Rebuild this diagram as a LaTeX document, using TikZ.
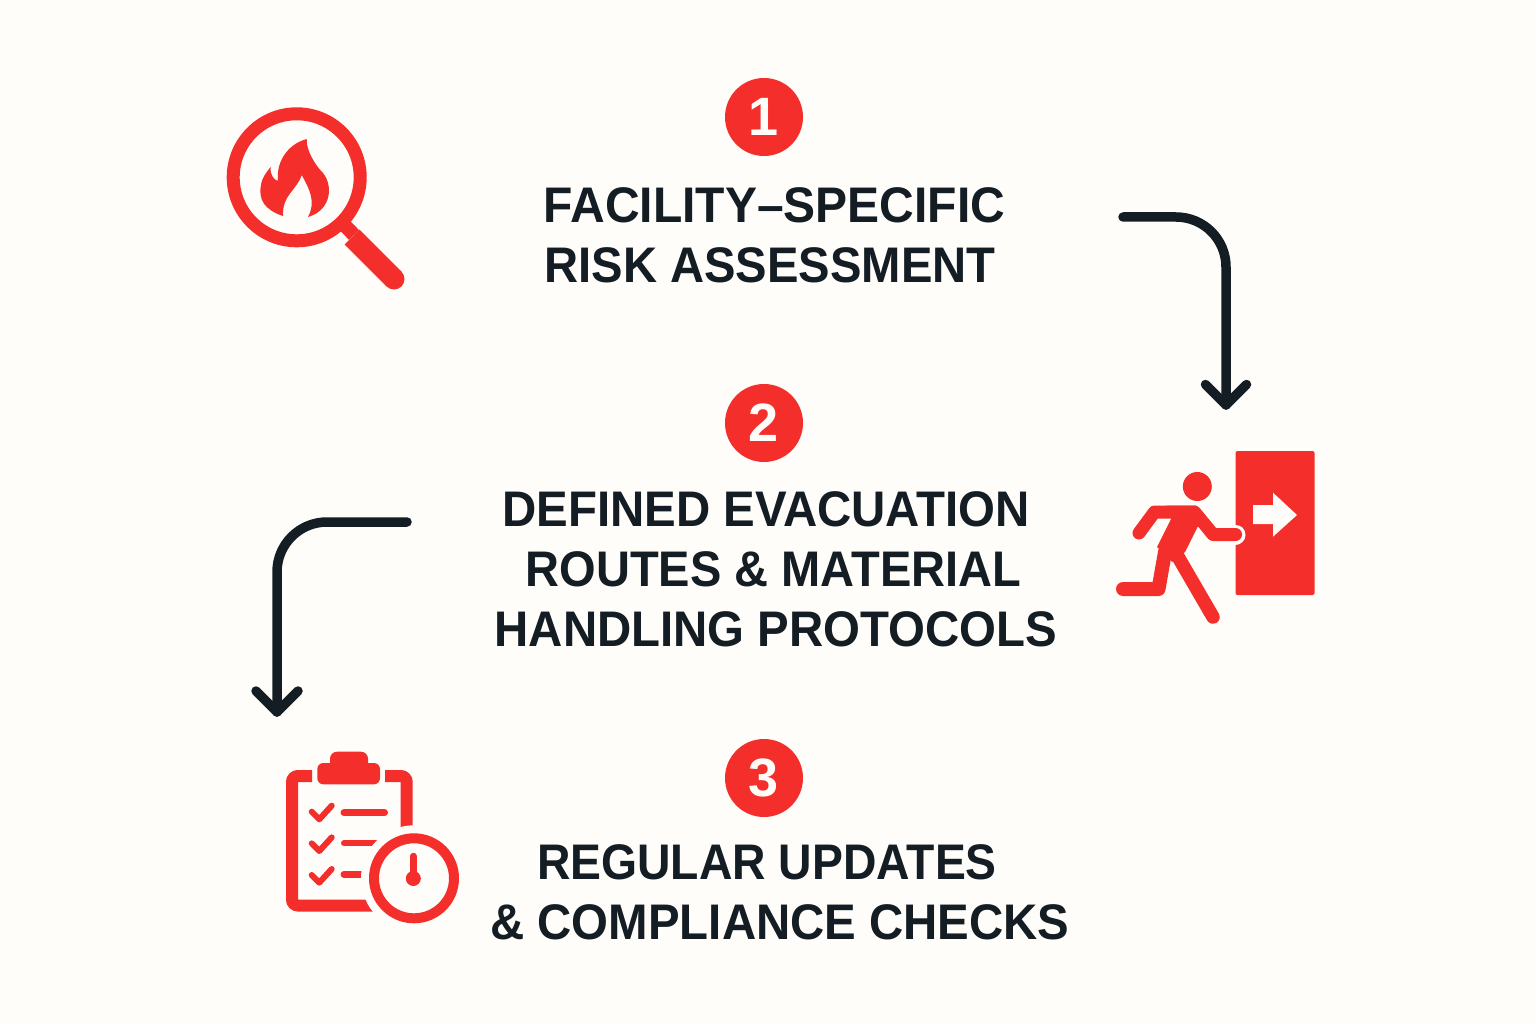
\documentclass[tikz,border=0pt]{standalone}
\usepackage{fontspec}
\setmainfont{Liberation Sans}[BoldFeatures={FakeStretch=0.948}]
\newfontfamily\digitfont{Liberation Sans Bold}
\definecolor{bgc}{HTML}{FFFDFA}
\definecolor{redc}{HTML}{F32E2B}
\definecolor{inkc}{HTML}{131D23}
\tikzset{
 lbl/.style={font=\fontsize{50}{60}\selectfont\bfseries,text=inkc,inner sep=0pt,anchor=center},
 badge/.style={circle,fill=redc,minimum size=78pt,inner sep=0pt,text=bgc,font=\fontsize{54}{54}\digitfont},
 flow/.style={draw=inkc,line width=9.5pt,line cap=round,line join=round},
 icl/.style={draw=redc,line cap=round,line join=round}
}
\begin{document}
\begin{tikzpicture}[x=1pt,y=-1pt]
\useasboundingbox[fill=bgc] (0,0) rectangle (1536,1024);
\node[badge] (b1) at (764,117) {\raisebox{-2pt}{1}};
\node[badge] (b2) at (764,423) {\raisebox{-2pt}{2}};
\node[badge] (b3) at (764,778) {\raisebox{-2pt}{3}};
\node[lbl,xscale=1.013] (t1a) at (774.5,205) {FACILITY–SPECIFIC};
\node[lbl,xscale=0.996] (t1b) at (770,265) {RISK ASSESSMENT};
\node[lbl] (t2a) at (766,509) {DEFINED EVACUATION};
\node[lbl,xscale=0.992] (t2b) at (773.5,569) {ROUTES \& MATERIAL};
\node[lbl] (t2c) at (776,629) {HANDLING PROTOCOLS};
\node[lbl,xscale=0.977] (t3a) at (767,862) {REGULAR UPDATES};
\node[lbl] (t3b) at (780,922) {\& COMPLIANCE CHECKS};
% connectors
\coordinate (a1s) at (1123,217); \coordinate (a1e) at (1226,405);
\draw[flow] (a1s) -- (1176,217) arc[start angle=-90,end angle=0,radius=50] -- (a1e);
\draw[flow] (1205.5,384.5) -- (a1e) -- (1246.5,384.5);
\coordinate (a2s) at (407,522); \coordinate (a2e) at (277,712);
\draw[flow] (a2s) -- (327,522) arc[start angle=270,end angle=180,radius=50] -- (a2e);
\draw[flow] (256,691) -- (a2e) -- (298,691);
% magnifier
\draw[redc,line width=13pt] (296.7,177.3) circle[radius=63.5];
\draw[redc,line width=14pt] (343,223.5) -- (354,235);
\draw[redc,line width=21pt,line cap=butt] (352,237) -- (394,279);
\fill[redc] (394,279) circle[radius=10.5];
\fill[redc] (306.7,139) .. controls (306,150) and (315,165) .. (323,173) .. controls (333,185) and (332,210) .. (308,217)
 .. controls (316,202) and (310,190) .. (301.7,175) .. controls (297,190) and (282,195) .. (283,216)
 .. controls (265,210) and (258,200) .. (261,185) .. controls (262,177) and (267,172) .. (270.5,167)
 .. controls (270,175) and (274,180) .. (278,181) .. controls (276,165) and (285,145) .. (306.7,139) -- cycle;
% door and runner
\fill[redc,rounded corners=2pt] (1235.5,451) rectangle (1314.5,595);
\fill[bgc] (1253,505) -- (1273,505) -- (1273,492.7) -- (1297,515) -- (1273,536.7) -- (1273,524) -- (1253,524) -- cycle;
\draw[bgc,line width=20pt,line cap=round] (1215,534.5) -- (1235.5,534.5);
\fill[redc] (1197.3,486.5) circle[radius=14.5];
\fill[redc] (1165,505.5) -- (1196,505.5) -- (1206,520) -- (1199,524) -- (1185,552) -- (1172,562) -- (1157,547) -- (1171,519) -- (1170,506) -- cycle;
\draw[icl,line width=13pt] (1139,533) -- (1154.5,512) -- (1194.5,512) -- (1213,534.5) -- (1235.5,534.5);
\draw[icl,line width=14pt] (1165,552) -- (1158.5,589) -- (1123,589);
\draw[icl,line width=13.5pt] (1177,555) -- (1213,617);
% clipboard
\draw[redc,line width=12pt,rounded corners=6pt] (312,776) -- (292,776) -- (292,905.5) -- (385,905.5);
\draw[redc,line width=12pt,rounded corners=6pt] (385,776) -- (406.7,776) -- (406.7,860);
\fill[redc,rounded corners=6pt] (317.3,763) rectangle (380,784.3);
\fill[redc,rounded corners=7pt] (330,751.7) rectangle (368,775);
\foreach \y in {811.7,843.4,875}{ \draw[icl,line width=6pt] (311.7,\y) -- (319.3,\y+7.6) -- (331.7,\y-6); }
\draw[icl,line width=7pt] (344,812.7) -- (384.5,812.7);
\draw[icl,line width=6pt] (344,843.3) -- (385,843.3);
\draw[icl,line width=7pt] (344,874.3) -- (385,874.3);
\fill[bgc] (414,878.3) circle[radius=53];
\draw[redc,line width=10pt] (414,878.3) circle[radius=40];
\draw[icl,line width=6.5pt] (413.3,856) -- (413.3,878);
\fill[redc] (413.3,878.5) circle[radius=7.5];
\end{tikzpicture}
\end{document}
